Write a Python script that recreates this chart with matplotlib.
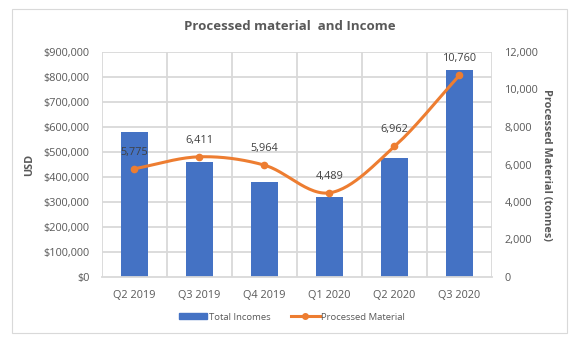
import numpy as np
import matplotlib
matplotlib.use("Agg")
import matplotlib.pyplot as plt
from matplotlib.ticker import FuncFormatter, MultipleLocator
from matplotlib.patches import Rectangle, Patch
from matplotlib.lines import Line2D

quarters = ["Q2 2019", "Q3 2019", "Q4 2019", "Q1 2020", "Q2 2020", "Q3 2020"]
total_incomes = [580000, 460000, 380000, 320000, 476000, 828000]
processed_material = [5775, 6411, 5964, 4489, 6962, 10760]

BLUE = "#4472C4"
ORANGE = "#ED7D31"
TEXT = "#595959"
GRID = "#D9D9D9"

plt.rcParams["font.family"] = ["Open Sans", "DejaVu Sans"]

W, H = 577, 345


def catmull_rom(x, y, n=30):
    """Smooth curve through the points (Catmull-Rom spline)."""
    x = np.asarray(x, float)
    y = np.asarray(y, float)
    px = np.concatenate([[2 * x[0] - x[1]], x, [2 * x[-1] - x[-2]]])
    py = np.concatenate([[2 * y[0] - y[1]], y, [2 * y[-1] - y[-2]]])
    xs, ys = [], []
    t = np.linspace(0, 1, n)
    for i in range(1, len(px) - 2):
        p0, p1, p2, p3 = [np.array([px[j], py[j]]) for j in range(i - 1, i + 3)]
        for tt in t:
            pt = 0.5 * ((2 * p1) + (-p0 + p2) * tt
                        + (2 * p0 - 5 * p1 + 4 * p2 - p3) * tt ** 2
                        + (-p0 + 3 * p1 - 3 * p2 + p3) * tt ** 3)
            xs.append(pt[0])
            ys.append(pt[1])
    return np.array(xs), np.array(ys)


fig = plt.figure(figsize=(W / 100, H / 100), dpi=100)
fig.patches.append(Rectangle((12 / W, 1 - 333 / H), 555 / W, 324 / H,
                             transform=fig.transFigure, fill=False,
                             edgecolor="#D9D9D9", linewidth=0.8))

left, right, top, bottom = 102, 492, 52, 277
ax = fig.add_axes([left / W, 1 - bottom / H, (right - left) / W, (bottom - top) / H])
ax2 = ax.twinx()

x = np.arange(len(quarters))
ax.bar(x, total_incomes, width=0.41, color=BLUE, zorder=2, label="Total Incomes")
ax.set_xlim(-0.5, len(quarters) - 0.5)
ax.set_ylim(0, 900000)
ax.yaxis.set_major_locator(MultipleLocator(100000))
ax.yaxis.set_major_formatter(FuncFormatter(lambda v, p: f"${v:,.0f}"))
ax.set_xticks(x)
ax.set_xticklabels(quarters)

# grid: horizontal at value ticks, vertical at category boundaries
for v in np.arange(100000, 900001, 100000):
    ax.axhline(v, color=GRID, linewidth=1.3, zorder=0)
for b in np.arange(-0.5, len(quarters), 1):
    ax.axvline(b, color=GRID, linewidth=1.3, zorder=0)

for a in (ax, ax2):
    for s in a.spines.values():
        s.set_visible(False)
ax.spines["bottom"].set_visible(True)
ax.spines["bottom"].set_color(GRID)
ax.spines["bottom"].set_linewidth(1.3)

ax.tick_params(axis="x", length=0, colors=TEXT, labelsize=7.8, pad=9)
ax.tick_params(axis="y", length=0, colors=TEXT, labelsize=7.8, pad=9)
ax.set_ylabel("USD", color=TEXT, fontsize=7.8, fontweight="bold", labelpad=6)

sx, sy = catmull_rom(x, processed_material)
ax2.plot(sx, sy, color=ORANGE, linewidth=2.2, zorder=3, solid_capstyle="round")
ax2.plot(x, processed_material, "o", color=ORANGE, markersize=4.5, zorder=4)
ax2.set_ylim(0, 12000)
ax2.yaxis.set_major_locator(MultipleLocator(2000))
ax2.yaxis.set_major_formatter(FuncFormatter(lambda v, p: f"{v:,.0f}"))
ax2.tick_params(axis="y", length=0, colors=TEXT, labelsize=7.8, pad=9)
ax2.set_ylabel("Processed Material (tonnes)", color=TEXT, fontsize=7.8,
               fontweight="bold", rotation=-90, labelpad=10)

for xi, v in zip(x, processed_material):
    ax2.annotate(f"{v:,.0f}", (xi, v), xytext=(0, 8), textcoords="offset points",
                 ha="center", va="bottom", fontsize=7.8, color="#404040")

fig.text(290 / W, 1 - 27 / H, "Processed material  and Income",
         ha="center", va="center", fontsize=9.5, fontweight="bold", color=TEXT)

handles = [Patch(color=BLUE, label="Total Incomes"),
           Line2D([0], [0], color=ORANGE, linewidth=2.2, marker="o", markersize=4,
                  label="Processed Material")]
fig.legend(handles=handles, loc="center", bbox_to_anchor=(292 / W, 1 - 317 / H),
           ncol=2, frameon=False, fontsize=6.8, labelcolor=TEXT,
           handlelength=3.0, handleheight=0.5, columnspacing=2.2, handletextpad=0.2)

fig.savefig("out.png", dpi=100)
